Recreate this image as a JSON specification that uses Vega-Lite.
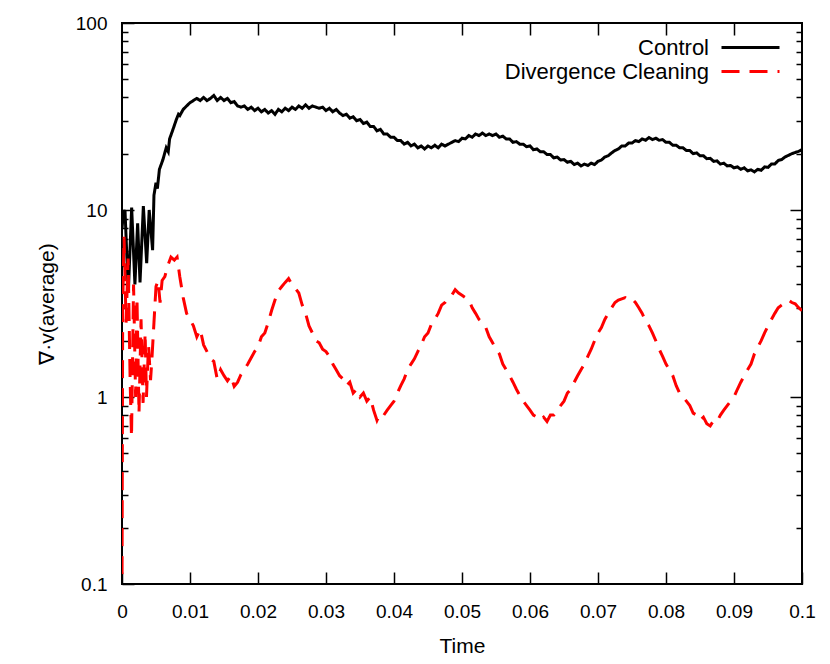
{
"$schema":"https://vega.github.io/schema/vega-lite/v6.json",
"width":680,"height":561,
"autosize":"none",
"padding":{"left":122,"top":23,"right":28,"bottom":80},
"background":"white",
"config":{
 "view":{"stroke":"black","strokeWidth":2},
 "font":"Liberation Sans",
 "axis":{"domain":false,"grid":false,"tickColor":"black","tickWidth":1.5,"labelColor":"black","titleColor":"black","labelFont":"Liberation Sans","titleFont":"Liberation Sans","labelFontSize":19,"titleFontSize":21,"titleFontWeight":"normal","zindex":1},
 "legend":{"labelFont":"Liberation Sans"}
},
"data":{"values":[
{"s":"Control","t":0,"v":8},{"s":"Control","t":0.0002,"v":9.5},{"s":"Control","t":0.00044,"v":10},{"s":"Control","t":0.00093,"v":3.6},{"s":"Control","t":0.00142,"v":10.3},{"s":"Control","t":0.0019,"v":4.0},{"s":"Control","t":0.0023,"v":8.5},{"s":"Control","t":0.00265,"v":4.1},{"s":"Control","t":0.00314,"v":10.5},{"s":"Control","t":0.00363,"v":5.2},{"s":"Control","t":0.004,"v":10},{"s":"Control","t":0.0045,"v":6.1},{"s":"Control","t":0.0047,"v":12},
{"s":"Control","t":0.005,"v":14},{"s":"Control","t":0.0052,"v":13},{"s":"Control","t":0.0055,"v":16.5},{"s":"Control","t":0.006,"v":18.5},{"s":"Control","t":0.0065,"v":21.5},{"s":"Control","t":0.0068,"v":20.5},{"s":"Control","t":0.007,"v":24},{"s":"Control","t":0.0075,"v":27},{"s":"Control","t":0.008,"v":30.5},{"s":"Control","t":0.0083,"v":32.5},{"s":"Control","t":0.0085,"v":32},{"s":"Control","t":0.009,"v":34.5},{"s":"Control","t":0.0095,"v":36},{"s":"Control","t":0.01,"v":37.5},{"s":"Control","t":0.0105,"v":38.5},{"s":"Control","t":0.011,"v":39.5},{"s":"Control","t":0.0115,"v":38.5},{"s":"Control","t":0.012,"v":40},{"s":"Control","t":0.0125,"v":38.5},{"s":"Control","t":0.013,"v":39.5},{"s":"Control","t":0.0135,"v":41},{"s":"Control","t":0.014,"v":38.5},{"s":"Control","t":0.0145,"v":40},{"s":"Control","t":0.015,"v":38.5},{"s":"Control","t":0.0155,"v":39.5},{"s":"Control","t":0.016,"v":37.5},{"s":"Control","t":0.0165,"v":38},{"s":"Control","t":0.017,"v":36},{"s":"Control","t":0.0175,"v":35.5},{"s":"Control","t":0.018,"v":36},{"s":"Control","t":0.0185,"v":34.5},{"s":"Control","t":0.019,"v":35.5},{"s":"Control","t":0.0195,"v":34},{"s":"Control","t":0.02,"v":35},{"s":"Control","t":0.0205,"v":33.5},{"s":"Control","t":0.021,"v":34.5},{"s":"Control","t":0.0215,"v":33},{"s":"Control","t":0.022,"v":34},{"s":"Control","t":0.0225,"v":32.5},{"s":"Control","t":0.023,"v":34.5},{"s":"Control","t":0.0235,"v":33.5},{"s":"Control","t":0.024,"v":35},{"s":"Control","t":0.0245,"v":34},{"s":"Control","t":0.025,"v":35.5},{"s":"Control","t":0.0255,"v":34.5},{"s":"Control","t":0.026,"v":36},{"s":"Control","t":0.0265,"v":35},{"s":"Control","t":0.027,"v":36.5},{"s":"Control","t":0.0275,"v":35},{"s":"Control","t":0.028,"v":36},{"s":"Control","t":0.0285,"v":35.5},{"s":"Control","t":0.029,"v":35},{"s":"Control","t":0.0295,"v":35.5},{"s":"Control","t":0.03,"v":34},{"s":"Control","t":0.0305,"v":35},{"s":"Control","t":0.031,"v":33.5},{"s":"Control","t":0.0315,"v":34.5},{"s":"Control","t":0.032,"v":33},{"s":"Control","t":0.0325,"v":32},{"s":"Control","t":0.033,"v":32.5},{"s":"Control","t":0.0335,"v":31},{"s":"Control","t":0.034,"v":31.5},{"s":"Control","t":0.0345,"v":30},{"s":"Control","t":0.035,"v":30.5},{"s":"Control","t":0.0355,"v":29},{"s":"Control","t":0.036,"v":29.5},{"s":"Control","t":0.0365,"v":28},{"s":"Control","t":0.037,"v":28},{"s":"Control","t":0.0375,"v":26.5},{"s":"Control","t":0.038,"v":27},{"s":"Control","t":0.0385,"v":25.5},{"s":"Control","t":0.039,"v":25.5},{"s":"Control","t":0.0395,"v":24.5},{"s":"Control","t":0.04,"v":24.5},{"s":"Control","t":0.0405,"v":23.5},{"s":"Control","t":0.041,"v":23.5},{"s":"Control","t":0.0415,"v":22.5},{"s":"Control","t":0.042,"v":23},{"s":"Control","t":0.0425,"v":22},{"s":"Control","t":0.043,"v":22.5},{"s":"Control","t":0.0435,"v":21.5},{"s":"Control","t":0.044,"v":22},{"s":"Control","t":0.0445,"v":21.2},{"s":"Control","t":0.045,"v":22},{"s":"Control","t":0.0455,"v":21.5},{"s":"Control","t":0.046,"v":22.2},{"s":"Control","t":0.0465,"v":21.5},{"s":"Control","t":0.047,"v":22.5},{"s":"Control","t":0.0475,"v":22},{"s":"Control","t":0.048,"v":22.5},{"s":"Control","t":0.0485,"v":23},{"s":"Control","t":0.049,"v":23.5},{"s":"Control","t":0.0495,"v":23.2},{"s":"Control","t":0.05,"v":24.2},{"s":"Control","t":0.0505,"v":24},{"s":"Control","t":0.051,"v":25},{"s":"Control","t":0.0515,"v":24.5},{"s":"Control","t":0.052,"v":25.5},{"s":"Control","t":0.0525,"v":25},{"s":"Control","t":0.053,"v":25.8},{"s":"Control","t":0.0535,"v":25},{"s":"Control","t":0.054,"v":25.5},{"s":"Control","t":0.0545,"v":25},{"s":"Control","t":0.055,"v":25.5},{"s":"Control","t":0.0555,"v":24.5},{"s":"Control","t":0.056,"v":24.8},{"s":"Control","t":0.0565,"v":24},{"s":"Control","t":0.057,"v":24},{"s":"Control","t":0.0575,"v":23},{"s":"Control","t":0.058,"v":23.2},{"s":"Control","t":0.0585,"v":22.5},{"s":"Control","t":0.059,"v":22.5},{"s":"Control","t":0.0595,"v":21.8},{"s":"Control","t":0.06,"v":22},{"s":"Control","t":0.0605,"v":21},{"s":"Control","t":0.061,"v":21.2},{"s":"Control","t":0.0615,"v":20.5},{"s":"Control","t":0.062,"v":20.5},{"s":"Control","t":0.0625,"v":19.8},{"s":"Control","t":0.063,"v":19.8},{"s":"Control","t":0.0635,"v":19},{"s":"Control","t":0.064,"v":19.2},{"s":"Control","t":0.0645,"v":18.5},{"s":"Control","t":0.065,"v":18.6},{"s":"Control","t":0.0655,"v":18},{"s":"Control","t":0.066,"v":18.2},{"s":"Control","t":0.0665,"v":17.5},{"s":"Control","t":0.067,"v":17.8},{"s":"Control","t":0.0675,"v":17.2},{"s":"Control","t":0.068,"v":17.6},{"s":"Control","t":0.0685,"v":17.3},{"s":"Control","t":0.069,"v":17.8},{"s":"Control","t":0.0695,"v":17.5},{"s":"Control","t":0.07,"v":18.2},{"s":"Control","t":0.0705,"v":18.5},{"s":"Control","t":0.071,"v":19.2},{"s":"Control","t":0.0715,"v":19.5},{"s":"Control","t":0.072,"v":20.2},{"s":"Control","t":0.0725,"v":20.8},{"s":"Control","t":0.073,"v":21.2},{"s":"Control","t":0.0735,"v":22},{"s":"Control","t":0.074,"v":22},{"s":"Control","t":0.0745,"v":22.8},{"s":"Control","t":0.075,"v":22.8},{"s":"Control","t":0.0755,"v":23.5},{"s":"Control","t":0.076,"v":23.2},{"s":"Control","t":0.0765,"v":24},{"s":"Control","t":0.077,"v":23.6},{"s":"Control","t":0.0775,"v":24.4},{"s":"Control","t":0.078,"v":23.8},{"s":"Control","t":0.0785,"v":24.2},{"s":"Control","t":0.079,"v":23.6},{"s":"Control","t":0.0795,"v":23.8},{"s":"Control","t":0.08,"v":23},{"s":"Control","t":0.0805,"v":23},{"s":"Control","t":0.081,"v":22.2},{"s":"Control","t":0.0815,"v":22.2},{"s":"Control","t":0.082,"v":21.5},{"s":"Control","t":0.0825,"v":21.5},{"s":"Control","t":0.083,"v":20.8},{"s":"Control","t":0.0835,"v":20.8},{"s":"Control","t":0.084,"v":20},{"s":"Control","t":0.0845,"v":20.2},{"s":"Control","t":0.085,"v":19.5},{"s":"Control","t":0.0855,"v":19.5},{"s":"Control","t":0.086,"v":18.8},{"s":"Control","t":0.0865,"v":18.9},{"s":"Control","t":0.087,"v":18.2},{"s":"Control","t":0.0875,"v":18.3},{"s":"Control","t":0.088,"v":17.6},{"s":"Control","t":0.0885,"v":17.8},{"s":"Control","t":0.089,"v":17.2},{"s":"Control","t":0.0895,"v":17.3},{"s":"Control","t":0.09,"v":16.8},{"s":"Control","t":0.0905,"v":17},{"s":"Control","t":0.091,"v":16.5},{"s":"Control","t":0.0915,"v":16.8},{"s":"Control","t":0.092,"v":16.2},{"s":"Control","t":0.0925,"v":16.4},{"s":"Control","t":0.093,"v":16},{"s":"Control","t":0.0935,"v":16.5},{"s":"Control","t":0.094,"v":16.3},{"s":"Control","t":0.0945,"v":17},{"s":"Control","t":0.095,"v":16.9},{"s":"Control","t":0.0955,"v":17.6},{"s":"Control","t":0.096,"v":17.6},{"s":"Control","t":0.0965,"v":18.4},{"s":"Control","t":0.097,"v":18.6},{"s":"Control","t":0.0975,"v":19.2},{"s":"Control","t":0.098,"v":19.6},{"s":"Control","t":0.0985,"v":20},{"s":"Control","t":0.099,"v":20.3},{"s":"Control","t":0.0995,"v":20.6},{"s":"Control","t":0.1,"v":21},
{"s":"Divergence Cleaning","t":0,"v":0.08},{"s":"Divergence Cleaning","t":0.0001,"v":3},{"s":"Divergence Cleaning","t":0.0003,"v":7.2},{"s":"Divergence Cleaning","t":0.0006,"v":2.5},{"s":"Divergence Cleaning","t":0.0009,"v":5.5},{"s":"Divergence Cleaning","t":0.0012,"v":1.2},{"s":"Divergence Cleaning","t":0.0014,"v":0.61},{"s":"Divergence Cleaning","t":0.0017,"v":4.0},{"s":"Divergence Cleaning","t":0.002,"v":1.0},{"s":"Divergence Cleaning","t":0.0022,"v":3.4},{"s":"Divergence Cleaning","t":0.0025,"v":0.82},{"s":"Divergence Cleaning","t":0.0028,"v":2.6},{"s":"Divergence Cleaning","t":0.0031,"v":0.93},{"s":"Divergence Cleaning","t":0.0034,"v":2.2},{"s":"Divergence Cleaning","t":0.0036,"v":1.0},{"s":"Divergence Cleaning","t":0.0039,"v":1.9},{"s":"Divergence Cleaning","t":0.0042,"v":1.23},{"s":"Divergence Cleaning","t":0.0044,"v":1.6},{"s":"Divergence Cleaning","t":0.0047,"v":2.5},{"s":"Divergence Cleaning","t":0.005,"v":3.9},{"s":"Divergence Cleaning","t":0.0053,"v":4.2},{"s":"Divergence Cleaning","t":0.0056,"v":3.2},{"s":"Divergence Cleaning","t":0.0059,"v":4.2},{"s":"Divergence Cleaning","t":0.0063,"v":4.4},{"s":"Divergence Cleaning","t":0.0067,"v":5.0},{"s":"Divergence Cleaning","t":0.0072,"v":5.6},{"s":"Divergence Cleaning","t":0.0077,"v":5.4},{"s":"Divergence Cleaning","t":0.0081,"v":5.6},{"s":"Divergence Cleaning","t":0.0085,"v":4.4},{"s":"Divergence Cleaning","t":0.009,"v":3.4},{"s":"Divergence Cleaning","t":0.0095,"v":2.8},{"s":"Divergence Cleaning","t":0.01,"v":2.6},{"s":"Divergence Cleaning","t":0.0105,"v":2.4},{"s":"Divergence Cleaning","t":0.011,"v":2.1},{"s":"Divergence Cleaning","t":0.0115,"v":2.3},{"s":"Divergence Cleaning","t":0.012,"v":1.9},{"s":"Divergence Cleaning","t":0.0125,"v":1.75},{"s":"Divergence Cleaning","t":0.013,"v":1.6},{"s":"Divergence Cleaning","t":0.0135,"v":1.55},{"s":"Divergence Cleaning","t":0.014,"v":1.25},{"s":"Divergence Cleaning","t":0.0145,"v":1.4},{"s":"Divergence Cleaning","t":0.015,"v":1.3},{"s":"Divergence Cleaning","t":0.0155,"v":1.22},{"s":"Divergence Cleaning","t":0.016,"v":1.3},{"s":"Divergence Cleaning","t":0.0165,"v":1.14},{"s":"Divergence Cleaning","t":0.017,"v":1.2},{"s":"Divergence Cleaning","t":0.0175,"v":1.32},{"s":"Divergence Cleaning","t":0.018,"v":1.4},{"s":"Divergence Cleaning","t":0.0185,"v":1.5},{"s":"Divergence Cleaning","t":0.019,"v":1.62},{"s":"Divergence Cleaning","t":0.0195,"v":1.75},{"s":"Divergence Cleaning","t":0.02,"v":1.85},{"s":"Divergence Cleaning","t":0.0205,"v":2.1},{"s":"Divergence Cleaning","t":0.021,"v":2.2},{"s":"Divergence Cleaning","t":0.0215,"v":2.5},{"s":"Divergence Cleaning","t":0.022,"v":2.9},{"s":"Divergence Cleaning","t":0.0225,"v":3.3},{"s":"Divergence Cleaning","t":0.023,"v":3.7},{"s":"Divergence Cleaning","t":0.0235,"v":3.9},{"s":"Divergence Cleaning","t":0.024,"v":4.1},{"s":"Divergence Cleaning","t":0.0245,"v":4.3},{"s":"Divergence Cleaning","t":0.025,"v":4.0},{"s":"Divergence Cleaning","t":0.0255,"v":3.8},{"s":"Divergence Cleaning","t":0.026,"v":3.6},{"s":"Divergence Cleaning","t":0.0265,"v":3.1},{"s":"Divergence Cleaning","t":0.027,"v":2.8},{"s":"Divergence Cleaning","t":0.0275,"v":2.4},{"s":"Divergence Cleaning","t":0.028,"v":2.2},{"s":"Divergence Cleaning","t":0.0285,"v":2.0},{"s":"Divergence Cleaning","t":0.029,"v":1.95},{"s":"Divergence Cleaning","t":0.0295,"v":1.8},{"s":"Divergence Cleaning","t":0.03,"v":1.75},{"s":"Divergence Cleaning","t":0.0305,"v":1.65},{"s":"Divergence Cleaning","t":0.031,"v":1.5},{"s":"Divergence Cleaning","t":0.0315,"v":1.4},{"s":"Divergence Cleaning","t":0.032,"v":1.3},{"s":"Divergence Cleaning","t":0.0325,"v":1.25},{"s":"Divergence Cleaning","t":0.033,"v":1.15},{"s":"Divergence Cleaning","t":0.0335,"v":1.2},{"s":"Divergence Cleaning","t":0.034,"v":1.05},{"s":"Divergence Cleaning","t":0.0345,"v":1.1},{"s":"Divergence Cleaning","t":0.035,"v":1.0},{"s":"Divergence Cleaning","t":0.0355,"v":1.05},{"s":"Divergence Cleaning","t":0.036,"v":0.95},{"s":"Divergence Cleaning","t":0.0365,"v":1.0},{"s":"Divergence Cleaning","t":0.037,"v":0.85},{"s":"Divergence Cleaning","t":0.0375,"v":0.75},{"s":"Divergence Cleaning","t":0.038,"v":0.82},{"s":"Divergence Cleaning","t":0.0385,"v":0.8},{"s":"Divergence Cleaning","t":0.039,"v":0.85},{"s":"Divergence Cleaning","t":0.0395,"v":0.9},{"s":"Divergence Cleaning","t":0.04,"v":0.95},{"s":"Divergence Cleaning","t":0.0405,"v":1.05},{"s":"Divergence Cleaning","t":0.041,"v":1.15},{"s":"Divergence Cleaning","t":0.0415,"v":1.25},{"s":"Divergence Cleaning","t":0.042,"v":1.4},{"s":"Divergence Cleaning","t":0.0425,"v":1.5},{"s":"Divergence Cleaning","t":0.043,"v":1.6},{"s":"Divergence Cleaning","t":0.0435,"v":1.75},{"s":"Divergence Cleaning","t":0.044,"v":1.9},{"s":"Divergence Cleaning","t":0.0445,"v":2.1},{"s":"Divergence Cleaning","t":0.045,"v":2.2},{"s":"Divergence Cleaning","t":0.0455,"v":2.45},{"s":"Divergence Cleaning","t":0.046,"v":2.6},{"s":"Divergence Cleaning","t":0.0465,"v":2.8},{"s":"Divergence Cleaning","t":0.047,"v":3.1},{"s":"Divergence Cleaning","t":0.0475,"v":3.2},{"s":"Divergence Cleaning","t":0.048,"v":3.4},{"s":"Divergence Cleaning","t":0.0485,"v":3.5},{"s":"Divergence Cleaning","t":0.049,"v":3.75},{"s":"Divergence Cleaning","t":0.0495,"v":3.6},{"s":"Divergence Cleaning","t":0.05,"v":3.5},{"s":"Divergence Cleaning","t":0.0505,"v":3.4},{"s":"Divergence Cleaning","t":0.051,"v":3.3},{"s":"Divergence Cleaning","t":0.0515,"v":3.0},{"s":"Divergence Cleaning","t":0.052,"v":2.8},{"s":"Divergence Cleaning","t":0.0525,"v":2.6},{"s":"Divergence Cleaning","t":0.053,"v":2.5},{"s":"Divergence Cleaning","t":0.0535,"v":2.35},{"s":"Divergence Cleaning","t":0.054,"v":2.1},{"s":"Divergence Cleaning","t":0.0545,"v":1.95},{"s":"Divergence Cleaning","t":0.055,"v":1.8},{"s":"Divergence Cleaning","t":0.0555,"v":1.7},{"s":"Divergence Cleaning","t":0.056,"v":1.5},{"s":"Divergence Cleaning","t":0.0565,"v":1.4},{"s":"Divergence Cleaning","t":0.057,"v":1.3},{"s":"Divergence Cleaning","t":0.0575,"v":1.2},{"s":"Divergence Cleaning","t":0.058,"v":1.1},{"s":"Divergence Cleaning","t":0.0585,"v":1.02},{"s":"Divergence Cleaning","t":0.059,"v":0.95},{"s":"Divergence Cleaning","t":0.0595,"v":0.9},{"s":"Divergence Cleaning","t":0.06,"v":0.85},{"s":"Divergence Cleaning","t":0.0605,"v":0.8},{"s":"Divergence Cleaning","t":0.061,"v":0.78},{"s":"Divergence Cleaning","t":0.0615,"v":0.75},{"s":"Divergence Cleaning","t":0.062,"v":0.78},{"s":"Divergence Cleaning","t":0.0625,"v":0.74},{"s":"Divergence Cleaning","t":0.063,"v":0.8},{"s":"Divergence Cleaning","t":0.0635,"v":0.8},{"s":"Divergence Cleaning","t":0.064,"v":0.85},{"s":"Divergence Cleaning","t":0.0645,"v":0.9},{"s":"Divergence Cleaning","t":0.065,"v":0.95},{"s":"Divergence Cleaning","t":0.0655,"v":1.05},{"s":"Divergence Cleaning","t":0.066,"v":1.1},{"s":"Divergence Cleaning","t":0.0665,"v":1.2},{"s":"Divergence Cleaning","t":0.067,"v":1.3},{"s":"Divergence Cleaning","t":0.0675,"v":1.4},{"s":"Divergence Cleaning","t":0.068,"v":1.5},{"s":"Divergence Cleaning","t":0.0685,"v":1.65},{"s":"Divergence Cleaning","t":0.069,"v":1.8},{"s":"Divergence Cleaning","t":0.0695,"v":2.0},{"s":"Divergence Cleaning","t":0.07,"v":2.2},{"s":"Divergence Cleaning","t":0.0705,"v":2.35},{"s":"Divergence Cleaning","t":0.071,"v":2.6},{"s":"Divergence Cleaning","t":0.0715,"v":2.8},{"s":"Divergence Cleaning","t":0.072,"v":3.0},{"s":"Divergence Cleaning","t":0.0725,"v":3.2},{"s":"Divergence Cleaning","t":0.073,"v":3.3},{"s":"Divergence Cleaning","t":0.0735,"v":3.35},{"s":"Divergence Cleaning","t":0.074,"v":3.4},{"s":"Divergence Cleaning","t":0.0745,"v":3.3},{"s":"Divergence Cleaning","t":0.075,"v":3.35},{"s":"Divergence Cleaning","t":0.0755,"v":3.2},{"s":"Divergence Cleaning","t":0.076,"v":3.0},{"s":"Divergence Cleaning","t":0.0765,"v":2.8},{"s":"Divergence Cleaning","t":0.077,"v":2.55},{"s":"Divergence Cleaning","t":0.0775,"v":2.4},{"s":"Divergence Cleaning","t":0.078,"v":2.2},{"s":"Divergence Cleaning","t":0.0785,"v":2.0},{"s":"Divergence Cleaning","t":0.079,"v":1.8},{"s":"Divergence Cleaning","t":0.0795,"v":1.65},{"s":"Divergence Cleaning","t":0.08,"v":1.5},{"s":"Divergence Cleaning","t":0.0805,"v":1.4},{"s":"Divergence Cleaning","t":0.081,"v":1.3},{"s":"Divergence Cleaning","t":0.0815,"v":1.15},{"s":"Divergence Cleaning","t":0.082,"v":1.05},{"s":"Divergence Cleaning","t":0.0825,"v":1.0},{"s":"Divergence Cleaning","t":0.083,"v":0.95},{"s":"Divergence Cleaning","t":0.0835,"v":0.9},{"s":"Divergence Cleaning","t":0.084,"v":0.82},{"s":"Divergence Cleaning","t":0.0845,"v":0.8},{"s":"Divergence Cleaning","t":0.085,"v":0.75},{"s":"Divergence Cleaning","t":0.0855,"v":0.78},{"s":"Divergence Cleaning","t":0.086,"v":0.72},{"s":"Divergence Cleaning","t":0.0865,"v":0.7},{"s":"Divergence Cleaning","t":0.087,"v":0.75},{"s":"Divergence Cleaning","t":0.0875,"v":0.74},{"s":"Divergence Cleaning","t":0.088,"v":0.8},{"s":"Divergence Cleaning","t":0.0885,"v":0.85},{"s":"Divergence Cleaning","t":0.089,"v":0.9},{"s":"Divergence Cleaning","t":0.0895,"v":0.95},{"s":"Divergence Cleaning","t":0.09,"v":1.0},{"s":"Divergence Cleaning","t":0.0905,"v":1.1},{"s":"Divergence Cleaning","t":0.091,"v":1.2},{"s":"Divergence Cleaning","t":0.0915,"v":1.3},{"s":"Divergence Cleaning","t":0.092,"v":1.4},{"s":"Divergence Cleaning","t":0.0925,"v":1.5},{"s":"Divergence Cleaning","t":0.093,"v":1.7},{"s":"Divergence Cleaning","t":0.0935,"v":1.85},{"s":"Divergence Cleaning","t":0.094,"v":2.0},{"s":"Divergence Cleaning","t":0.0945,"v":2.2},{"s":"Divergence Cleaning","t":0.095,"v":2.4},{"s":"Divergence Cleaning","t":0.0955,"v":2.6},{"s":"Divergence Cleaning","t":0.096,"v":2.8},{"s":"Divergence Cleaning","t":0.0965,"v":3.0},{"s":"Divergence Cleaning","t":0.097,"v":3.1},{"s":"Divergence Cleaning","t":0.0975,"v":3.2},{"s":"Divergence Cleaning","t":0.098,"v":3.3},{"s":"Divergence Cleaning","t":0.0985,"v":3.2},{"s":"Divergence Cleaning","t":0.099,"v":3.15},{"s":"Divergence Cleaning","t":0.0995,"v":3.0},{"s":"Divergence Cleaning","t":0.1,"v":2.9}
]},
"resolve":{"scale":{"x":"shared","y":"shared"},"axis":{"x":"independent","y":"independent"}},
"layer":[
 {"mark":{"type":"line","strokeWidth":3,"clip":true},
  "encoding":{
   "x":{"field":"t","type":"quantitative","scale":{"domain":[0,0.1],"nice":false,"zero":false},
        "axis":{"orient":"bottom","title":"Time","values":[0,0.01,0.02,0.03,0.04,0.05,0.06,0.07,0.08,0.09,0.1],"format":"~g","tickSize":-12,"labelPadding":30,"titlePadding":14,"labelFlush":false}},
   "y":{"field":"v","type":"quantitative","scale":{"type":"log","domain":[0.1,100],"nice":false},
        "axis":{"orient":"left","title":"∇·v(average)","values":[0.1,1,10,100],"format":"~g","tickSize":-12,"labelPadding":27,"titlePadding":18}},
   "color":{"field":"s","type":"nominal","scale":{"domain":["Control","Divergence Cleaning"],"range":["black","#ff0000"]},
     "legend":{"title":null,"orient":"none","legendX":585,"legendY":13,"symbolType":"M-2.9,0H2.9","symbolStrokeWidth":3,"symbolSize":400,"symbolFillColor":"transparent","labelFontSize":22,"labelLimit":0,"labelAlign":"right","labelOffset":-53,"symbolOffset":32,"padding":0,"rowPadding":1}},
   "strokeDash":{"field":"s","type":"nominal","scale":{"domain":["Control","Divergence Cleaning"],"range":[[1,0],[18,10]]},
     "legend":{"title":null,"orient":"none","legendX":585,"legendY":13,"symbolType":"M-2.9,0H2.9","symbolStrokeWidth":3,"symbolSize":400,"symbolFillColor":"transparent","labelFontSize":22,"labelLimit":0,"labelAlign":"right","labelOffset":-53,"symbolOffset":32,"padding":0,"rowPadding":1}}
  }},
 {"mark":{"type":"line","opacity":0},
  "encoding":{
   "x":{"field":"t","type":"quantitative","axis":{"orient":"top","title":null,"labels":false,"values":[0.01,0.02,0.03,0.04,0.05,0.06,0.07,0.08,0.09],"tickSize":-12}},
   "y":{"field":"v","type":"quantitative","axis":{"orient":"right","title":null,"labels":false,"values":[1,10],"tickSize":-12}}
  }},
 {"mark":{"type":"line","opacity":0},
  "encoding":{
   "x":{"field":"t","type":"quantitative","axis":null},
   "y":{"field":"v","type":"quantitative","axis":{"orient":"left","title":null,"labels":false,"values":[0.2,0.3,0.4,0.5,0.6,0.7,0.8,0.9,2,3,4,5,6,7,8,9,20,30,40,50,60,70,80,90],"tickSize":-6}}
  }},
 {"mark":{"type":"line","opacity":0},
  "encoding":{
   "x":{"field":"t","type":"quantitative","axis":null},
   "y":{"field":"v","type":"quantitative","axis":{"orient":"right","title":null,"labels":false,"values":[0.2,0.3,0.4,0.5,0.6,0.7,0.8,0.9,2,3,4,5,6,7,8,9,20,30,40,50,60,70,80,90],"tickSize":-6}}
  }}
]
}
